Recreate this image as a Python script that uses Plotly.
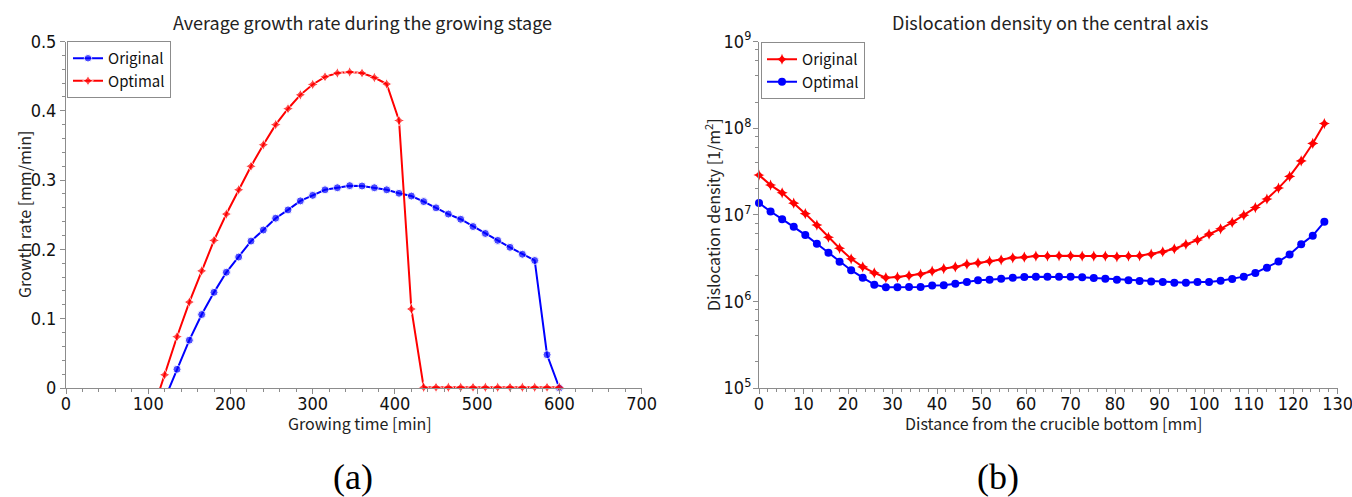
import plotly.graph_objects as go

# ---- (a) growth rate during the growing stage ----
growth_time = [105, 120, 135, 150, 165, 180, 195, 210, 225, 240, 255, 270,
               285, 300, 315, 330, 345, 360, 375, 390, 405, 420, 435, 450,
               465, 480, 495, 510, 525, 540, 555, 570, 585, 600]
growth_original = [None, -0.016, 0.027, 0.069, 0.106, 0.138, 0.167, 0.189,
                   0.212, 0.228, 0.245, 0.257, 0.270, 0.278, 0.286, 0.289,
                   0.292, 0.2915, 0.289, 0.286, 0.281, 0.277, 0.269, 0.260,
                   0.251, 0.2435, 0.233, 0.223, 0.213, 0.203, 0.193, 0.184,
                   0.048, 0.0]
growth_optimal = [-0.035, 0.019, 0.074, 0.124, 0.169, 0.213, 0.251, 0.286,
                  0.320, 0.351, 0.380, 0.403, 0.423, 0.438, 0.449, 0.4545,
                  0.456, 0.4545, 0.448, 0.4386, 0.386, 0.114, 0.001, 0.001,
                  0.001, 0.001, 0.001, 0.001, 0.001, 0.001, 0.001, 0.001,
                  0.001, 0.001]

# ---- (b) dislocation density on the central axis ----
distance = [0.0, 2.6, 5.2, 7.8, 10.4, 13.0, 15.6, 18.1, 20.7, 23.3, 25.9,
            28.5, 31.1, 33.7, 36.3, 38.9, 41.5, 44.1, 46.7, 49.2, 51.8, 54.4,
            57.0, 59.6, 62.2, 64.8, 67.4, 70.0, 72.6, 75.2, 77.8, 80.4, 83.0,
            85.5, 88.1, 90.7, 93.3, 95.9, 98.5, 101.1, 103.7, 106.3, 108.9,
            111.5, 114.1, 116.7, 119.2, 121.8, 124.4, 127.0]
density_original = [2.87e7, 2.2e7, 1.79e7, 1.36e7, 1.03e7, 7.6e6, 5.5e6,
                    4.1e6, 3.1e6, 2.5e6, 2.13e6, 1.88e6, 1.91e6, 1.98e6,
                    2.07e6, 2.23e6, 2.39e6, 2.5e6, 2.69e6, 2.78e6, 2.91e6,
                    3.02e6, 3.18e6, 3.24e6, 3.33e6, 3.33e6, 3.36e6, 3.36e6,
                    3.33e6, 3.33e6, 3.33e6, 3.27e6, 3.33e6, 3.36e6, 3.51e6,
                    3.74e6, 4.05e6, 4.55e6, 5.1e6, 5.96e6, 6.87e6, 8.15e6,
                    9.9e6, 1.21e7, 1.52e7, 2.03e7, 2.77e7, 4.18e7, 6.65e7,
                    1.13e8]
density_optimal = [1.37e7, 1.09e7, 8.9e6, 7.25e6, 5.85e6, 4.63e6, 3.64e6,
                   2.86e6, 2.29e6, 1.88e6, 1.56e6, 1.46e6, 1.46e6, 1.47e6,
                   1.47e6, 1.53e6, 1.54e6, 1.6e6, 1.67e6, 1.75e6, 1.78e6,
                   1.83e6, 1.88e6, 1.91e6, 1.92e6, 1.92e6, 1.92e6, 1.92e6,
                   1.9e6, 1.86e6, 1.83e6, 1.78e6, 1.75e6, 1.72e6, 1.7e6,
                   1.67e6, 1.64e6, 1.64e6, 1.67e6, 1.67e6, 1.73e6, 1.81e6,
                   1.93e6, 2.13e6, 2.45e6, 2.88e6, 3.48e6, 4.55e6, 5.74e6,
                   8.28e6]

density_exponents = [5, 6, 7, 8, 9]

W, H = 1352, 497
BLUE = "#0000ff"
RED = "#ff0000"
AXIS_GREY = "#8c8c8c"
FONT = "Noto Sans CJK JP"
TICK_FONT = dict(family="Liberation Sans Narrow, DejaVu Sans Condensed, Noto Sans CJK JP",
                 size=18, color="#111111")


def marker_sizes(values, size):
    # points below the plotted range keep only their connecting line
    return [size if (v is not None and v >= 0) else 0 for v in values]


def px_x(px):
    return px / W


def px_y(px):
    return 1 - px / H


fig = go.Figure()

fig.add_trace(go.Scatter(
    x=growth_time, y=growth_original, name="Original", mode="lines+markers",
    line=dict(color=BLUE, width=2),
    marker=dict(symbol="circle", size=marker_sizes(growth_original, 8), color=BLUE),
    cliponaxis=False, xaxis="x", yaxis="y", legend="legend"))
fig.add_trace(go.Scatter(
    x=growth_time, y=growth_optimal, name="Optimal", mode="lines+markers",
    line=dict(color=RED, width=2),
    marker=dict(symbol="star-diamond", size=marker_sizes(growth_optimal, 8), color=RED),
    cliponaxis=False, xaxis="x", yaxis="y", legend="legend"))

fig.add_trace(go.Scatter(
    x=distance, y=density_original, name="Original", mode="lines+markers",
    line=dict(color=RED, width=2),
    marker=dict(symbol="star-diamond", size=8, color=RED),
    cliponaxis=False, xaxis="x2", yaxis="y2", legend="legend2"))
fig.add_trace(go.Scatter(
    x=distance, y=density_optimal, name="Optimal", mode="lines+markers",
    line=dict(color=BLUE, width=2),
    marker=dict(symbol="circle", size=8, color=BLUE),
    cliponaxis=False, xaxis="x2", yaxis="y2", legend="legend2"))

axis_common = dict(
    showline=True, linecolor=AXIS_GREY, linewidth=1, mirror=False,
    showgrid=False, zeroline=False, ticks="outside", ticklen=5,
    tickcolor=AXIS_GREY, tickfont=TICK_FONT, automargin=False,
    ticklabeloverflow="allow",
)
minor_common = dict(ticks="outside", ticklen=3, tickcolor=AXIS_GREY, showgrid=False)
legend_common = dict(
    xanchor="left", yanchor="top",
    bgcolor="white", bordercolor=AXIS_GREY, borderwidth=1,
    font=dict(family=FONT, size=15, color="#111111"),
    tracegroupgap=0, itemwidth=30,
)

y_dom = [px_y(388), px_y(41.5)]


def text_note(text, x, y, size=16, angle=0, family=FONT, color="#222222"):
    return dict(text=text, xref="paper", yref="paper", x=px_x(x), y=px_y(y),
                xanchor="center", yanchor="middle", showarrow=False, textangle=angle,
                font=dict(family=family, size=size, color=color))


fig.update_layout(
    width=W, height=H,
    margin=dict(l=0, r=0, t=0, b=0, autoexpand=False),
    paper_bgcolor="white", plot_bgcolor="white",
    font=dict(family=FONT, size=16, color="#222222"),
    showlegend=True,
    xaxis=dict(
        domain=[px_x(66), px_x(641.6)], range=[0, 700], dtick=100, tick0=0,
        minor=dict(dtick=20, **minor_common), anchor="y", ticklabelstandoff=-6,
        **axis_common),
    yaxis=dict(
        domain=y_dom, range=[0, 0.5], dtick=0.1, tick0=0,
        minor=dict(dtick=0.02, **minor_common), anchor="x", **axis_common),
    xaxis2=dict(
        domain=[px_x(759), px_x(1337.7)], range=[0, 130], dtick=10, tick0=0,
        minor=dict(dtick=2, **minor_common), anchor="y2", ticklabelstandoff=-6,
        **axis_common),
    yaxis2=dict(
        domain=y_dom, type="log", range=[5, 9],
        tickmode="array",
        tickvals=[10 ** e for e in density_exponents],
        ticktext=[f"10<sup>{e}</sup>" for e in density_exponents],
        minor=dict(tickmode="array",
                   tickvals=[m * 10 ** e for e in density_exponents[:-1] for m in (2, 4, 6, 8)],
                   **minor_common),
        anchor="x2", ticklabelstandoff=-2, **axis_common),
    legend=dict(x=px_x(67), y=px_y(41), **legend_common),
    legend2=dict(x=px_x(761), y=px_y(42), **legend_common),
    annotations=[
        text_note("Average growth rate during the growing stage", 362, 22, size=18),
        text_note("Dislocation density on the central axis", 1050, 22, size=18),
        text_note("Growing time [min]", 360, 423),
        text_note("Distance from the crucible bottom [mm]", 1054, 423),
        text_note("Growth rate [mm/min]", 24, 215, angle=-90),
        text_note("Dislocation density [1/m<sup>2</sup>]", 712, 215, angle=-90),
        text_note("(a)", 353, 477, size=36, family="Liberation Serif", color="#000000"),
        text_note("(b)", 998, 477, size=36, family="Liberation Serif", color="#000000"),
    ],
)

fig.write_html("out.html")
